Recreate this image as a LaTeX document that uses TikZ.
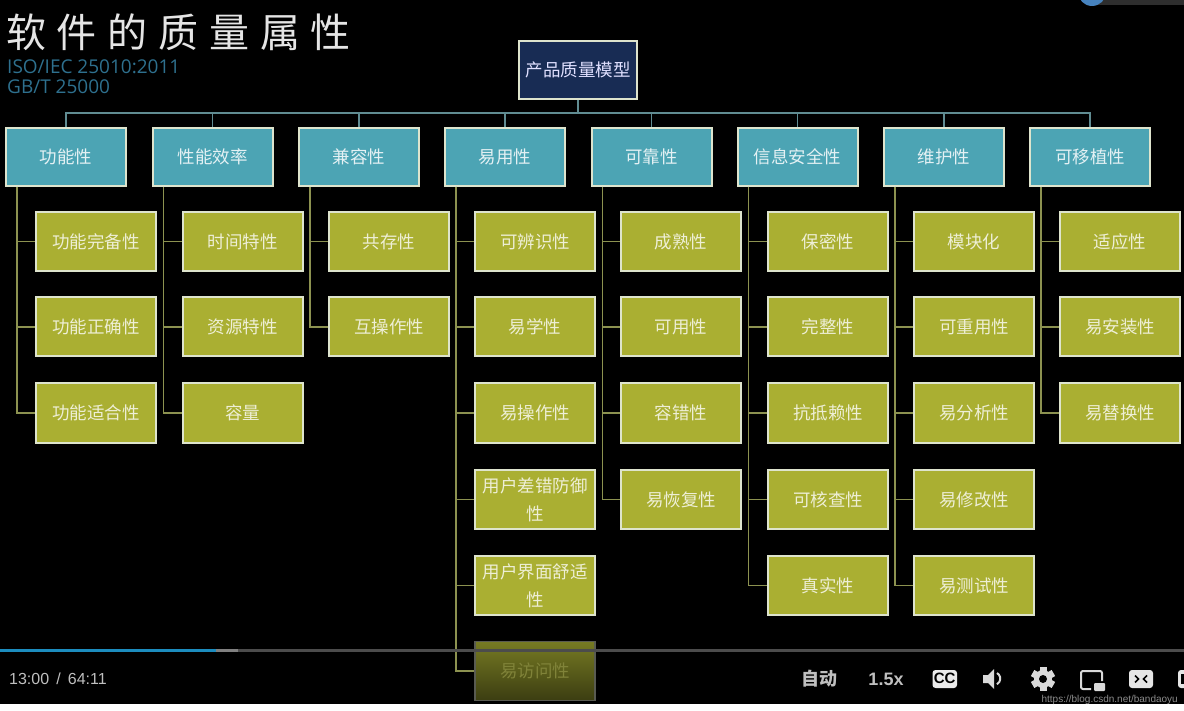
\documentclass[tikz,border=0pt]{standalone}
\usepackage{fontspec}
\setmainfont{Liberation Sans}
\newfontfamily\cjk{Noto Sans CJK SC}
\newfontfamily\cjktitle[LetterSpace=27]{Noto Sans CJK SC}
\newfontfamily\latinsub{Open Sans}
\definecolor{tealbox}{RGB}{76,164,180}
\definecolor{olivebox}{RGB}{170,175,50}
\definecolor{navybox}{RGB}{24,44,84}
\definecolor{boxrim}{RGB}{222,228,205}
\definecolor{kidline}{RGB}{140,146,80}
\definecolor{busline}{RGB}{96,140,146}
\definecolor{subtext}{RGB}{46,112,142}
\definecolor{barblue}{RGB}{28,140,190}
\definecolor{avatar}{RGB}{70,130,190}
\tikzset{
  rootbox/.style={draw=boxrim, line width=2pt, fill=navybox, text=white!88!blue, minimum width=118pt, minimum height=58pt, inner sep=0pt, font=\cjk\fontsize{17.5}{22}\selectfont},
  groupbox/.style={draw=boxrim, line width=2pt, fill=tealbox, text=white!85!tealbox, minimum width=120pt, minimum height=58pt, inner sep=0pt, font=\cjk\fontsize{17.5}{22}\selectfont},
  itembox/.style={draw=boxrim, line width=2pt, fill=olivebox, text=white!80!olivebox, minimum width=120pt, minimum height=59pt, inner sep=0pt, align=center, font=\cjk\fontsize{17.5}{28}\selectfont},
  fadebox/.style={itembox, draw=boxrim!40!black, line width=1.5pt, top color=olivebox!70!black, bottom color=olivebox!35!black, text=olivebox!85!white!70!black},
  kid/.style={draw=kidline, line width=1.7pt},
  bus/.style={draw=busline, line width=1.7pt},
  barlabel/.style={inner sep=0pt, text=white!75!black}
}
\begin{document}
\begin{tikzpicture}[x=1pt,y=-1pt]
  \fill[white] (0,0) rectangle (1184,711);
  \fill[black] (0,0) rectangle (1184,704);
  \useasboundingbox (0,0) rectangle (1184,711);

  % top right corner
  \begin{scope}
    \clip (0,0) rectangle (1184,10);
    \fill[black!82] (1095,-10) rectangle (1184,5);
    \fill[avatar] (1092,-8) circle (14);
  \end{scope}

  % heading
  \node (title) [anchor=west, inner sep=0pt, text=white!90!black, font=\cjktitle\fontsize{40}{44}\selectfont] at (6,32) {软件的质量属性};
  \node (sub1) [anchor=west, inner sep=0pt, text=subtext, font=\latinsub\fontsize{19}{20}\selectfont] at (7,67) {ISO/IEC 25010:2011};
  \node (sub2) [anchor=west, inner sep=0pt, text=subtext, font=\latinsub\fontsize{19}{20}\selectfont] at (7,87) {GB/T 25000};

  \node (root) [rootbox] at (578,70) {产品质量模型};
  \coordinate (busjoin) at (578,113);

  % groups
  \node (g1) [groupbox] at (66,157) {功能性};
  \node (g2) [groupbox] at (212.5,157) {性能效率};
  \node (g3) [groupbox] at (359,157) {兼容性};
  \node (g4) [groupbox] at (505,157) {易用性};
  \node (g5) [groupbox] at (651.5,157) {可靠性};
  \node (g6) [groupbox] at (797.5,157) {信息安全性};
  \node (g7) [groupbox] at (944,157) {维护性};
  \node (g8) [groupbox] at (1090,157) {可移植性};

  % items
  \node (a1) [itembox] at (96,241.5) {功能完备性};
  \node (a2) [itembox] at (96,327) {功能正确性};
  \node (a3) [itembox] at (96,413) {功能适合性};

  \node (b1) [itembox] at (242.5,241.5) {时间特性};
  \node (b2) [itembox] at (242.5,327) {资源特性};
  \node (b3) [itembox] at (242.5,413) {容量};

  \node (c1) [itembox] at (389,241.5) {共存性};
  \node (c2) [itembox] at (389,327) {互操作性};

  \node (d1) [itembox] at (535,241.5) {可辨识性};
  \node (d2) [itembox] at (535,327) {易学性};
  \node (d3) [itembox] at (535,413) {易操作性};
  \node (d4) [itembox] at (535,499.5) {用户差错防御\\性};
  \node (d5) [itembox] at (535,585.5) {用户界面舒适\\性};
  \node (d6) [fadebox] at (535,671) {易访问性};

  \node (e1) [itembox] at (681,241.5) {成熟性};
  \node (e2) [itembox] at (681,327) {可用性};
  \node (e3) [itembox] at (681,413) {容错性};
  \node (e4) [itembox] at (681,499.5) {易恢复性};

  \node (f1) [itembox] at (828,241.5) {保密性};
  \node (f2) [itembox] at (828,327) {完整性};
  \node (f3) [itembox] at (828,413) {抗抵赖性};
  \node (f4) [itembox] at (828,499.5) {可核查性};
  \node (f5) [itembox] at (828,585.5) {真实性};

  \node (h1) [itembox] at (974,241.5) {模块化};
  \node (h2) [itembox] at (974,327) {可重用性};
  \node (h3) [itembox] at (974,413) {易分析性};
  \node (h4) [itembox] at (974,499.5) {易修改性};
  \node (h5) [itembox] at (974,585.5) {易测试性};

  \node (k1) [itembox] at (1120,241.5) {适应性};
  \node (k2) [itembox] at (1120,327) {易安装性};
  \node (k3) [itembox] at (1120,413) {易替换性};

  % top connectors
  \draw [bus] (root.south) -- (busjoin);
  \draw [bus] (busjoin) -| (g1.north);
  \draw [bus] (busjoin) -| (g2.north);
  \draw [bus] (busjoin) -| (g3.north);
  \draw [bus] (busjoin) -| (g4.north);
  \draw [bus] (busjoin) -| (g5.north);
  \draw [bus] (busjoin) -| (g6.north);
  \draw [bus] (busjoin) -| (g7.north);
  \draw [bus] (busjoin) -| (g8.north);

  % group to item connectors
  \draw [kid] ([xshift=12pt]g1.south west) |- (a1.west);
  \draw [kid] ([xshift=12pt]g1.south west) |- (a2.west);
  \draw [kid] ([xshift=12pt]g1.south west) |- (a3.west);
  \draw [kid] ([xshift=12pt]g2.south west) |- (b1.west);
  \draw [kid] ([xshift=12pt]g2.south west) |- (b2.west);
  \draw [kid] ([xshift=12pt]g2.south west) |- (b3.west);
  \draw [kid] ([xshift=12pt]g3.south west) |- (c1.west);
  \draw [kid] ([xshift=12pt]g3.south west) |- (c2.west);
  \draw [kid] ([xshift=12pt]g4.south west) |- (d1.west);
  \draw [kid] ([xshift=12pt]g4.south west) |- (d2.west);
  \draw [kid] ([xshift=12pt]g4.south west) |- (d3.west);
  \draw [kid] ([xshift=12pt]g4.south west) |- (d4.west);
  \draw [kid] ([xshift=12pt]g4.south west) |- (d5.west);
  \draw [kid] ([xshift=12pt]g4.south west) |- (d6.west);
  \draw [kid] ([xshift=12pt]g5.south west) |- (e1.west);
  \draw [kid] ([xshift=12pt]g5.south west) |- (e2.west);
  \draw [kid] ([xshift=12pt]g5.south west) |- (e3.west);
  \draw [kid] ([xshift=12pt]g5.south west) |- (e4.west);
  \draw [kid] ([xshift=12pt]g6.south west) |- (f1.west);
  \draw [kid] ([xshift=12pt]g6.south west) |- (f2.west);
  \draw [kid] ([xshift=12pt]g6.south west) |- (f3.west);
  \draw [kid] ([xshift=12pt]g6.south west) |- (f4.west);
  \draw [kid] ([xshift=12pt]g6.south west) |- (f5.west);
  \draw [kid] ([xshift=12pt]g7.south west) |- (h1.west);
  \draw [kid] ([xshift=12pt]g7.south west) |- (h2.west);
  \draw [kid] ([xshift=12pt]g7.south west) |- (h3.west);
  \draw [kid] ([xshift=12pt]g7.south west) |- (h4.west);
  \draw [kid] ([xshift=12pt]g7.south west) |- (h5.west);
  \draw [kid] ([xshift=12pt]g8.south west) |- (k1.west);
  \draw [kid] ([xshift=12pt]g8.south west) |- (k2.west);
  \draw [kid] ([xshift=12pt]g8.south west) |- (k3.west);

  % player bar
  \fill[white!30!black] (0,649) rectangle (1184,651.5);
  \fill[white!50!black] (216,649) rectangle (238,651.5);
  \fill[barblue] (0,649) rectangle (216,651.5);
  \node (time) [barlabel, anchor=west, font=\fontsize{16}{18}\selectfont] at (9,679) {13:00\ \,/\ \,64:11};
  \node (auto) [barlabel, font=\cjk\bfseries\fontsize{18}{20}\selectfont] at (819.5,679) {自动};
  \node (speed) [barlabel, font=\bfseries\fontsize{18}{20}\selectfont] at (886,679) {1.5x};

  % cc
  \fill[white!92!black, rounded corners=3pt] (932.5,670) rectangle (957,688);
  \node (cc) [inner sep=0pt, text=black, font=\bfseries\fontsize{15}{15}\selectfont] at (944.7,678.5) {CC};
  % speaker
  \fill[white!85!black] (983,675) -- (988,675) -- (994,669) -- (994,689) -- (988,683) -- (983,683) -- cycle;
  \draw[white!85!black, line width=2pt] (997,673) arc (-60:60:6.5);
  % gear
  \fill[white!85!black] (1043,679) circle (9);
  \foreach \a in {0,60,...,300}
    \fill[white!85!black, rotate around={\a:(1043,679)}] (1039.5,667) rectangle (1046.5,672);
  \fill[black] (1043,679) circle (4);
  % window
  \draw[white!85!black, line width=2pt, rounded corners=2pt] (1091,689) -- (1081,689) -- (1081,671) -- (1102,671) -- (1102,681);
  \fill[white!85!black, rounded corners=1pt] (1094,683) rectangle (1105,691);
  % wide
  \fill[white!90!black, rounded corners=3pt] (1129,670) rectangle (1153,688);
  \draw[black, line width=1.6pt] (1135,675.5) -- (1138.5,679) -- (1135,682.5);
  \draw[black, line width=1.6pt] (1147,675.5) -- (1143.5,679) -- (1147,682.5);
  % full
  \fill[white!90!black, rounded corners=3pt] (1178,670) rectangle (1190,688);
  \fill[black] (1181,674) rectangle (1184,684);

  \node (mark) [anchor=east, inner sep=0pt, text=white!55!black, font=\fontsize{10}{12}\selectfont] at (1178,699.5) {https://blog.csdn.net/bandaoyu};
\end{tikzpicture}
\end{document}
